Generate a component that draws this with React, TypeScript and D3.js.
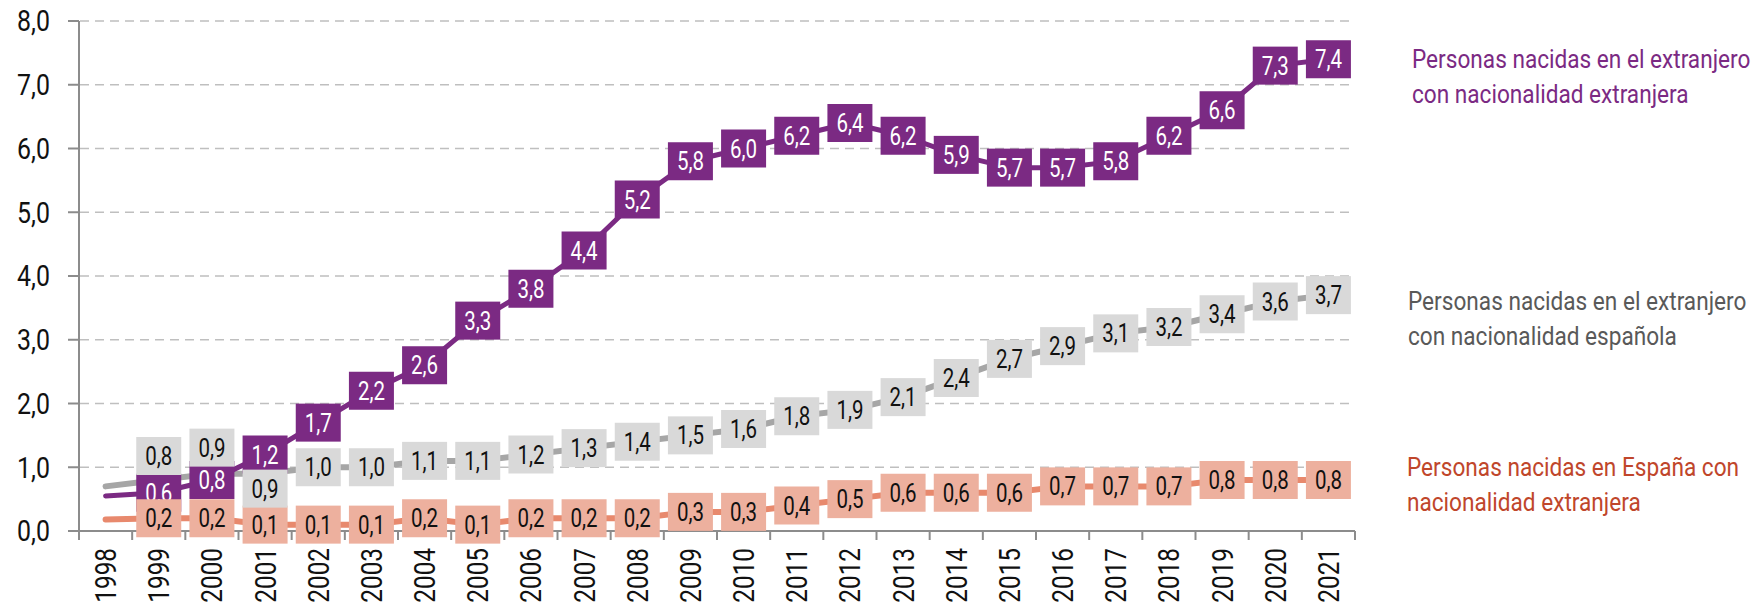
import * as d3 from "d3";

const years = [
  "1998", "1999", "2000", "2001", "2002", "2003", "2004", "2005",
  "2006", "2007", "2008", "2009", "2010", "2011", "2012", "2013",
  "2014", "2015", "2016", "2017", "2018", "2019", "2020", "2021",
];

// nacidas en el extranjero con nacionalidad extranjera
const extranjeroExtranjera = [
  0.55, 0.6, 0.8, 1.2, 1.7, 2.2, 2.6, 3.3, 3.8, 4.4, 5.2, 5.8,
  6.0, 6.2, 6.4, 6.2, 5.9, 5.7, 5.7, 5.8, 6.2, 6.6, 7.3, 7.4,
];
// nacidas en el extranjero con nacionalidad española
const extranjeroEspanola = [
  0.7, 0.8, 0.9, 0.9, 1.0, 1.0, 1.1, 1.1, 1.2, 1.3, 1.4, 1.5,
  1.6, 1.8, 1.9, 2.1, 2.4, 2.7, 2.9, 3.1, 3.2, 3.4, 3.6, 3.7,
];
// nacidas en España con nacionalidad extranjera
const espanaExtranjera = [
  0.18, 0.2, 0.2, 0.1, 0.1, 0.1, 0.2, 0.1, 0.2, 0.2, 0.2, 0.3,
  0.3, 0.4, 0.5, 0.6, 0.6, 0.6, 0.7, 0.7, 0.7, 0.8, 0.8, 0.8,
];

const yTicks = [0, 1, 2, 3, 4, 5, 6, 7, 8];

const legendPurple = ["Personas nacidas en el extranjero", "con nacionalidad extranjera"];
const legendGray = ["Personas nacidas en el extranjero", "con nacionalidad española"];
const legendSalmon = ["Personas nacidas en España con", "nacionalidad extranjera"];

// no condensed font installed, so Roboto gets squeezed horizontally
const FONT = "Roboto, 'Liberation Sans', sans-serif";

const W = 1758;
const H = 608;

// label nudges where boxes would collide (gray series, early years)
const grayNudge: Record<string, number> = { "1999": -24, "2000": -26, "2001": 15 };

const fmt = (v: number) => d3.format(".1f")(v).replace(".", ",");

type Series = {
  values: number[];
  line: string;
  width: number;
  box: string;
  text: string;
  nudge?: Record<string, number>;
};

export default function App() {
  const x = d3.scaleBand().domain(years).range([79, 1355]).padding(0);
  const y = d3.scaleLinear().domain([0, 8]).range([531, 21]);
  const cx = (yr: string) => (x(yr) ?? 0) + x.bandwidth() / 2;

  const purple: Series = { values: extranjeroExtranjera, line: "#7b2a83", width: 5, box: "#7b2a83", text: "#ffffff" };
  const gray: Series = { values: extranjeroEspanola, line: "#a6a6a6", width: 6, box: "#d9d9d9", text: "#111111", nudge: grayNudge };
  const salmon: Series = { values: espanaExtranjera, line: "#e8896d", width: 6, box: "#edb09e", text: "#111111" };

  const lineGen = (vals: number[]) =>
    d3
      .line<number>()
      .x((_, i) => cx(years[i]))
      .y((d) => y(d))(vals) || "";

  const boxW = 45;
  const boxH = 38;

  const labels = (s: Series, key: string) =>
    s.values.map((v, i) => {
      if (i === 0) return null;
      const yr = years[i];
      const px = cx(yr);
      const py = y(v) + (s.nudge?.[yr] ?? 0);
      return (
        <g key={key + yr}>
          <rect x={px - boxW / 2} y={py - boxH / 2} width={boxW} height={boxH} fill={s.box} />
          <text
            transform={`translate(${px},${py}) scale(0.82,1)`}
            dy="0.36em"
            textAnchor="middle"
            fontSize={25}
            fill={s.text}
          >
            {fmt(v)}
          </text>
        </g>
      );
    });

  const legend = (lines: string[], lx: number, ly: number, color: string) =>
    lines.map((t, i) => (
      <text
        key={t + i}
        transform={`translate(${lx},${ly + i * 34.5}) scale(0.87,1)`}
        fontSize={26}
        fill={color}
      >
        {t}
      </text>
    ));

  return (
    <svg
      width={W}
      height={H}
      style={{ position: "absolute", left: 0, top: 0, background: "#fff" }}
      fontFamily={FONT}
    >
      {/* grid */}
      {yTicks.slice(1).map((t) => (
        <line key={"g" + t} x1={80} x2={1355} y1={y(t)} y2={y(t)} stroke="#bfbfbf" strokeWidth={1.6} strokeDasharray="9,6" />
      ))}
      {/* y axis */}
      <line x1={79} x2={79} y1={y(8)} y2={y(0)} stroke="#8c8c8c" strokeWidth={2} />
      {yTicks.map((t) => (
        <g key={"y" + t}>
          <line x1={68} x2={79} y1={y(t)} y2={y(t)} stroke="#8c8c8c" strokeWidth={2} />
          <text
            transform={`translate(50,${y(t)}) scale(0.86,1)`}
            dy="0.36em"
            textAnchor="end"
            fontSize={29}
            fill="#111"
          >
            {fmt(t)}
          </text>
        </g>
      ))}
      {/* x axis */}
      <line x1={79} x2={1355} y1={y(0)} y2={y(0)} stroke="#8c8c8c" strokeWidth={2} />
      {years.map((yr) => (
        <line key={"xt" + yr} x1={x(yr)} x2={x(yr)} y1={y(0)} y2={y(0) + 9} stroke="#8c8c8c" strokeWidth={2} />
      ))}
      <line x1={1355} x2={1355} y1={y(0)} y2={y(0) + 9} stroke="#8c8c8c" strokeWidth={2} />
      {years.map((yr) => (
        <text
          key={"xl" + yr}
          transform={`translate(${cx(yr)},548) rotate(-90) scale(0.84,1)`}
          dy="0.36em"
          textAnchor="end"
          fontSize={29}
          fill="#111"
        >
          {yr}
        </text>
      ))}

      {/* lines */}
      {[salmon, gray, purple].map((s, i) => (
        <path key={"l" + i} d={lineGen(s.values)} fill="none" stroke={s.line} strokeWidth={s.width} strokeLinecap="round" strokeLinejoin="round" />
      ))}

      {/* labels */}
      {labels(purple, "p")}
      {labels(salmon, "s")}
      {labels(gray, "g")}

      {/* legends */}
      {legend(legendPurple, 1412, 68, "#7b2a83")}
      {legend(legendGray, 1408, 310, "#595959")}
      {legend(legendSalmon, 1407, 476, "#c0462b")}
    </svg>
  );
}
